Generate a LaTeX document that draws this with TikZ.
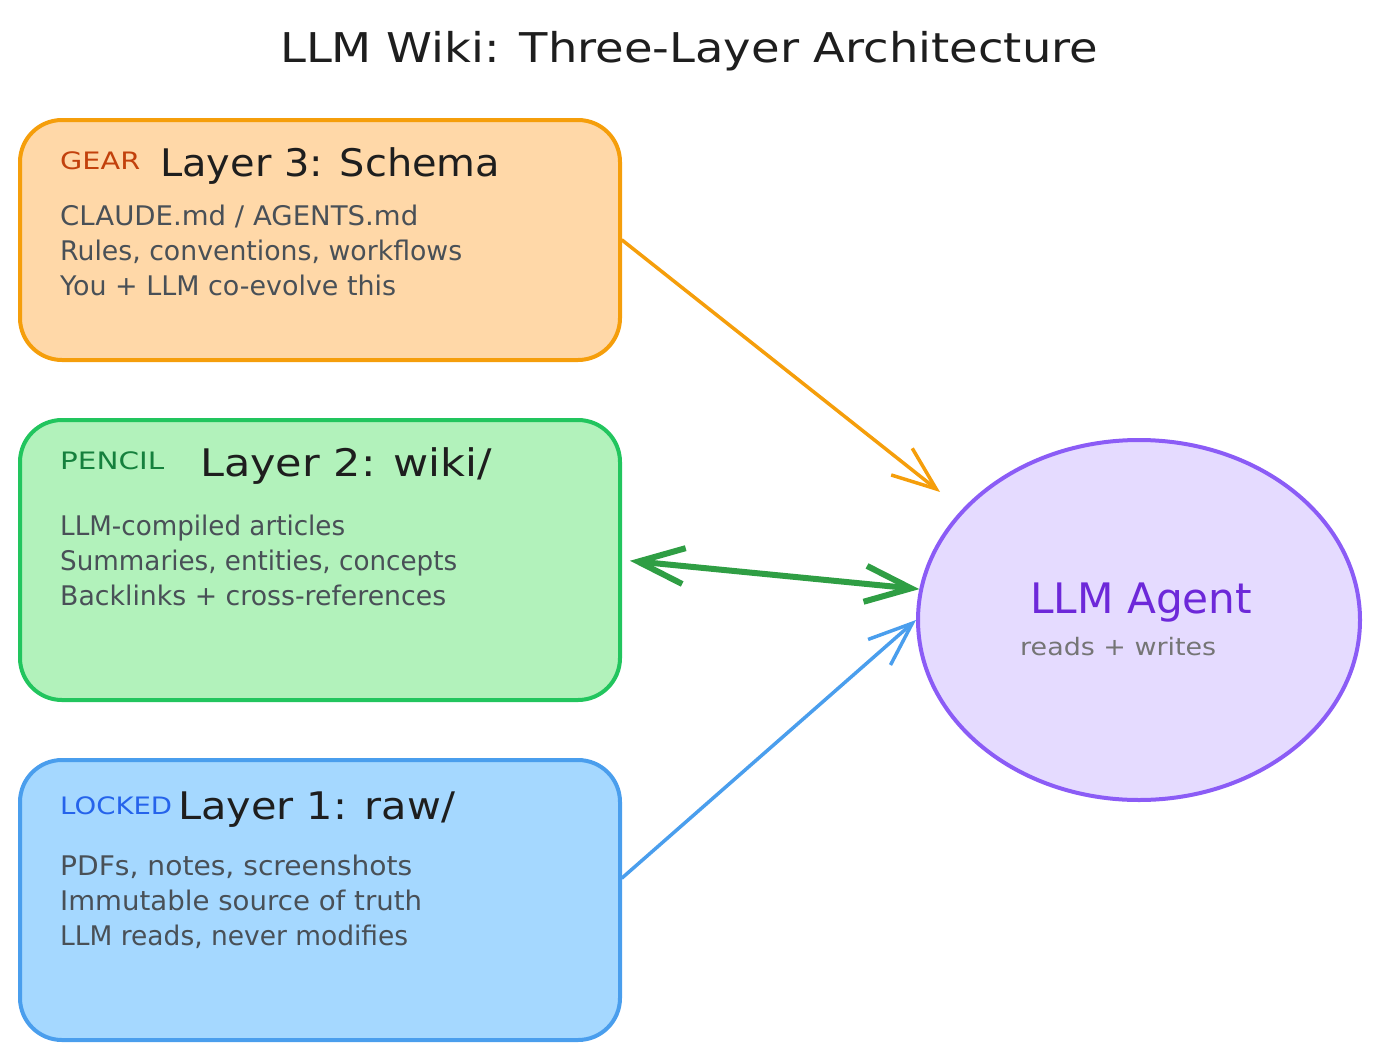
\documentclass[tikz,border=0pt]{standalone}
\usepackage{fontspec}
\setmainfont{DejaVu Sans}
\usetikzlibrary{arrows.meta,shapes.geometric,calc}
\definecolor{ofill}{HTML}{FFD8A8}
\definecolor{odraw}{HTML}{F59E0B}
\definecolor{gfill}{HTML}{B2F2BB}
\definecolor{gdraw}{HTML}{22C55E}
\definecolor{garrow}{HTML}{2F9E44}
\definecolor{bfill}{HTML}{A5D8FF}
\definecolor{bdraw}{HTML}{4A9EED}
\definecolor{pfill}{HTML}{E5DBFF}
\definecolor{pdraw}{HTML}{8B5CF6}
\definecolor{ptext}{HTML}{6D28D9}
\definecolor{geartxt}{HTML}{C2410C}
\definecolor{penciltxt}{HTML}{15803D}
\definecolor{lockedtxt}{HTML}{2563EB}
\definecolor{bodytxt}{HTML}{495057}
\definecolor{subtxt}{HTML}{757575}
\definecolor{titletxt}{HTML}{1E1E1E}
\newcommand\fitw[2]{\resizebox{#1}{\height}{#2}}
\tikzset{
  layerbox/.style={rounded corners=42pt, line width=4pt, minimum width=600pt, minimum height=#1, inner sep=0pt},
  txt/.style={anchor=base west, inner sep=0pt},
  tag/.style={txt, font=\fontsize{24}{28}\selectfont},
  head/.style={txt, font=\fontsize{38}{44}\selectfont, text=titletxt},
  body/.style={txt, font=\fontsize{27}{32}\selectfont, text=bodytxt},
  conn/.style={line cap=round, line join=round}
}
\begin{document}
\begin{tikzpicture}[x=1pt,y=-1pt]
\useasboundingbox (0,0) rectangle (1380,1060);
% title
\node[txt, font=\fontsize{41}{48}\selectfont, text=titletxt] (title) at (280,62) {\fitw{818pt}{LLM Wiki: Three-Layer Architecture}};
% boxes
\node[layerbox=240pt, fill=ofill, draw=odraw] (l3) at (320,240) {};
\node[layerbox=280pt, fill=gfill, draw=gdraw] (l2) at (320,560) {};
\node[layerbox=280pt, fill=bfill, draw=bdraw] (l1) at (320,900) {};
\node[ellipse, minimum width=442pt, minimum height=360pt, fill=pfill, draw=pdraw, line width=4pt] (agent) at (1139,620) {};
% layer 3 text
\node[tag, text=geartxt] (gear) at (60,169) {\fitw{80pt}{GEAR}};
\node[head] (h3) at (160,176) {\fitw{340pt}{Layer 3: Schema}};
\node[body] (b31) at (60,225) {\fitw{358pt}{CLAUDE.md / AGENTS.md}};
\node[body] (b32) at (60,260) {\fitw{402pt}{Rules, conventions, workflows}};
\node[body] (b33) at (60,295) {\fitw{336pt}{You + LLM co-evolve this}};
% layer 2 text
\node[tag, text=penciltxt] (pencil) at (60,469) {\fitw{104pt}{PENCIL}};
\node[head] (h2) at (200,476) {\fitw{292pt}{Layer 2: wiki/}};
\node[body] (b21) at (60,535) {\fitw{285pt}{LLM-compiled articles}};
\node[body] (b22) at (60,570) {\fitw{397pt}{Summaries, entities, concepts}};
\node[body] (b23) at (60,605) {\fitw{386pt}{Backlinks + cross-references}};
% layer 1 text
\node[tag, text=lockedtxt] (locked) at (60,814) {\fitw{112pt}{LOCKED}};
\node[head] (h1) at (178,819) {\fitw{277pt}{Layer 1: raw/}};
\node[body] (b11) at (60,875) {\fitw{352pt}{PDFs, notes, screenshots}};
\node[body] (b12) at (60,910) {\fitw{362pt}{Immutable source of truth}};
\node[body] (b13) at (60,945) {\fitw{348pt}{LLM reads, never modifies}};
% agent text
\node[txt, font=\fontsize{42}{48}\selectfont, text=ptext] (at1) at (1030,613) {\fitw{222pt}{LLM Agent}};
\node[txt, font=\fontsize{24}{28}\selectfont, text=subtxt] (at2) at (1020,655) {\fitw{196pt}{reads + writes}};
% connectors
\draw[conn, draw=odraw, line width=3.5pt, -{Straight Barb[length=44pt,width=34pt]}, shorten >=28pt] (l3.east) -- (agent.148.6);
\draw[conn, draw=garrow, line width=6pt, {Straight Barb[length=46pt,width=36pt]}-{Straight Barb[length=46pt,width=36pt]}, shorten <=8pt] (l2.east) -- (agent.172);
\draw[conn, draw=bdraw, line width=3.5pt, -{Straight Barb[length=44pt,width=34pt]}] ([yshift=22pt]l1.east) -- (agent.west);
\end{tikzpicture}
\end{document}
